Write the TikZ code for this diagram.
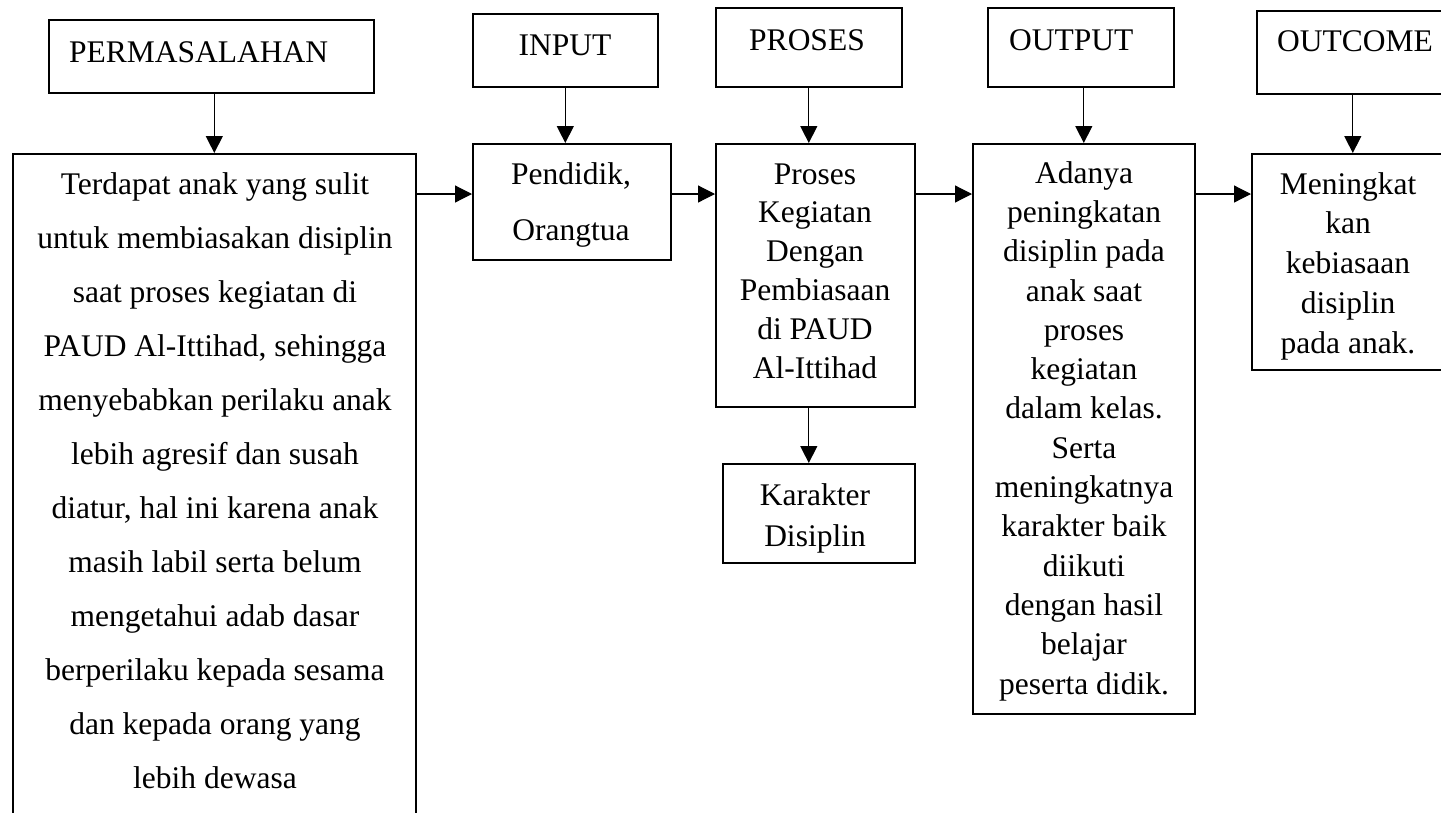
\documentclass[tikz,border=0pt]{standalone}
\usepackage{fontspec}
\setmainfont{Liberation Serif}
\usetikzlibrary{arrows.meta,calc}
\begin{document}
\begin{tikzpicture}[x=1pt,y=-1pt,
  box/.style={draw, line width=1.6pt, inner sep=0pt, anchor=north west},
  arr/.style={line width=1.2pt, -{Triangle[length=17pt,width=17pt]}},
  txt/.style={inner sep=0pt, align=center, font=\fontsize{31.5}{#1}\selectfont, anchor=base},
  txt/.default=39.5,
  hdr/.style={inner sep=0pt, font=\fontsize{31.5}{38}\selectfont}]
\useasboundingbox (0,0) rectangle (1441,812);
\clip (0,0) rectangle (1441,812);
\fill[white] (0,0) rectangle (1441,812);
% boxes
\node[box, minimum width=325, minimum height=73] (perm) at (48,19) {};
\node[box, minimum width=403, minimum height=700] (big) at (12,153) {};
\node[box, minimum width=185, minimum height=73] (inp) at (472,13) {};
\node[box, minimum width=198, minimum height=116] (pend) at (472,143) {};
\node[box, minimum width=186, minimum height=79] (prosh) at (715,7) {};
\node[box, minimum width=199, minimum height=263] (prosb) at (715,143) {};
\node[box, minimum width=192, minimum height=99] (kar) at (722,463) {};
\node[box, minimum width=186, minimum height=79] (outh) at (987,7) {};
\node[box, minimum width=222, minimum height=570] (outb) at (972,143) {};
\node[box, minimum width=192, minimum height=83] (outch) at (1256,10) {};
\node[box, minimum width=194, minimum height=216] (outcb) at (1251,153) {};
% header texts
\node[hdr, anchor=base west] (tperm) at (69,62.5) {PERMASALAHAN};
\node[hdr, anchor=base] (tinp) at (565,55) {INPUT};
\node[hdr, anchor=base] (tprosh) at (807,50) {PROSES};
\node[hdr, anchor=base west] (touth) at (1009,50) {OUTPUT};
\node[hdr, anchor=base west] (toutch) at (1277,51) {OUTCOME};
% body texts (anchor = baseline of last line)
\node[txt=54] (tbig) at (215,788) {Terdapat anak yang sulit\\untuk membiasakan disiplin\\saat proses kegiatan di\\PAUD Al-Ittihad, sehingga\\menyebabkan perilaku anak\\lebih agresif dan susah\\diatur, hal ini karena anak\\masih labil serta belum\\mengetahui adab dasar\\berperilaku kepada sesama\\dan kepada orang yang\\lebih dewasa};
\node[txt=56] (tpend) at (571,240) {Pendidik,\\Orangtua};
\node[txt=38.8] (tprosb) at (815,378) {Proses\\Kegiatan\\Dengan\\Pembiasaan\\di PAUD\\Al-Ittihad};
\node[txt=41] (tkar) at (815,546) {Karakter\\Disiplin};
\node[txt=39.3] (toutb) at (1084,694) {Adanya\\peningkatan\\disiplin pada\\anak saat\\proses\\kegiatan\\dalam kelas.\\Serta\\meningkatnya\\karakter baik\\diikuti\\dengan hasil\\belajar\\peserta didik.};
\node[txt=39.75] (toutcb) at (1348,353) {Meningkat\\kan\\kebiasaan\\disiplin\\pada anak.};
% connectors
\coordinate (hy) at (0,194);
\draw[arr] (perm.south -| big.north) -- (big.north);
\draw[arr] (inp.south) -- (inp.south |- pend.north);
\draw[arr] (prosh.south) -- (prosh.south |- prosb.north);
\draw[arr] (outh.south -| outb.north) -- (outb.north);
\draw[arr] (outch.south) -- (outch.south |- outcb.north);
\draw[arr] (prosb.south -| prosh.south) -- (kar.north -| prosh.south);
\draw[arr] (big.east |- hy) -- (pend.west |- hy);
\draw[arr] (pend.east |- hy) -- (prosb.west |- hy);
\draw[arr] (prosb.east |- hy) -- (outb.west |- hy);
\draw[arr] (outb.east |- hy) -- (outcb.west |- hy);
\end{tikzpicture}
\end{document}
